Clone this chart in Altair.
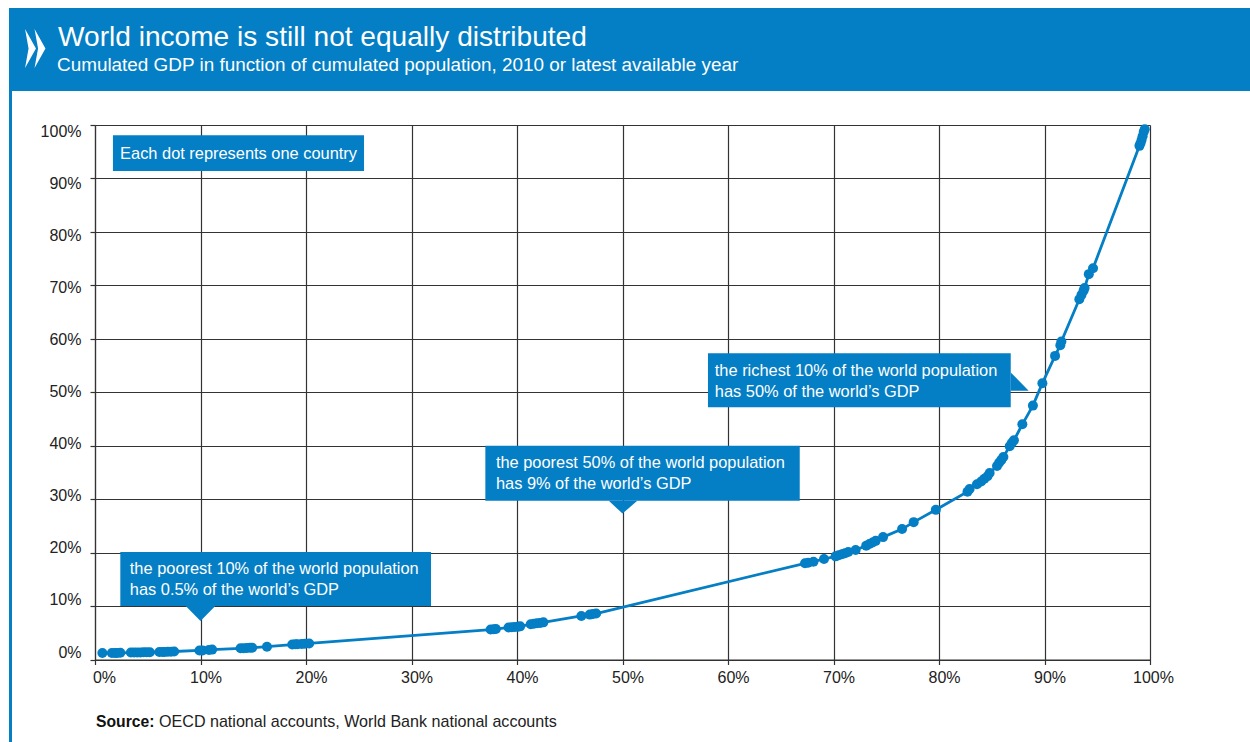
import altair as alt
import pandas as pd

BLUE = "#047ec4"
INK = "#333333"
FONT = "Liberation Sans"

# Cumulated population share (%) for each country, poorest first
population = [
    0.7, 1.6, 1.9, 2.1, 2.4, 3.4, 3.7, 4.0, 4.3, 4.6, 4.9, 5.2, 6.1, 6.4, 6.6, 6.9, 7.2, 7.5,
    9.9, 10.2, 10.8, 11.1, 13.8, 14.1, 14.4, 14.7, 14.9, 16.3, 18.7, 19.0, 19.2, 19.6, 19.9, 20.3,
    37.5, 37.8, 38.0, 39.2, 39.5, 39.8, 40.1, 40.3, 41.3, 41.6, 41.9, 42.2, 42.5, 46.1, 46.9, 47.2, 47.5,
    67.3, 67.6, 68.1, 69.1, 70.2, 70.5, 70.8, 71.1, 71.4, 72.1, 73.1, 73.4, 73.7, 74.0, 74.7, 76.5, 77.6, 79.7,
    82.7, 82.9, 83.6, 84.0, 84.3, 84.6, 84.8, 85.5, 85.7, 85.9, 86.1, 86.7, 86.9, 87.1, 87.9, 88.9, 89.8,
    91.0, 91.5, 91.6, 93.3, 93.5, 93.7, 93.8, 94.2, 94.6, 99.0, 99.1, 99.2, 99.3, 99.4, 99.5,
]
# Cumulated GDP share (%) at the same rank
gdp = [
    1.2, 1.2, 1.2, 1.2, 1.25, 1.3, 1.3, 1.3, 1.3, 1.35, 1.35, 1.35, 1.4, 1.4, 1.4, 1.45, 1.45, 1.5,
    1.7, 1.7, 1.8, 1.85, 2.1, 2.1, 2.15, 2.2, 2.2, 2.4, 2.8, 2.85, 2.85, 2.9, 2.95, 3.0,
    5.6, 5.65, 5.7, 6.0, 6.05, 6.1, 6.15, 6.2, 6.6, 6.7, 6.8, 6.85, 6.95, 8.15, 8.4, 8.5, 8.6,
    18.0, 18.1, 18.3, 18.8, 19.3, 19.5, 19.7, 19.9, 20.1, 20.5, 21.3, 21.6, 21.9, 22.2, 22.9, 24.4, 25.7, 28.0,
    31.4, 31.9, 32.8, 33.3, 33.8, 34.3, 34.9, 36.2, 36.8, 37.3, 37.9, 39.9, 40.5, 41.0, 44.0, 47.5, 51.7,
    56.8, 58.8, 59.5, 67.4, 68.2, 69.0, 69.5, 72.1, 73.2, 96.1, 96.6, 97.2, 97.9, 98.7, 99.2,
]

# Callout boxes, in axis units
box_x = [1.7, 2.4, 37.0, 58.1]
box_x2 = [25.5, 31.85, 66.8, 86.8]
box_y = [98.1, 20.1, 40.0, 57.3]
box_y2 = [91.4, 10.0, 29.7, 47.2]

# Callout pointers: each one is a small area from y to y2
ptr_group = ["a", "a", "a", "b", "b", "b", "c", "c"]
ptr_x = [8.6, 10.0, 11.4, 48.7, 50.0, 51.4, 86.8, 88.5]
ptr_y = [10.0, 10.0, 10.0, 29.7, 29.7, 29.7, 53.7, 50.3]
ptr_y2 = [10.0, 7.2, 10.0, 29.7, 27.3, 29.7, 50.3, 50.3]

note_text = [
    "Each dot represents one country",
    "the poorest 10% of the world population",
    "has 0.5% of the world’s GDP",
    "the poorest 50% of the world population",
    "has 9% of the world’s GDP",
    "the richest 10% of the world population",
    "has 50% of the world’s GDP",
]
note_x = [2.38, 3.3, 3.3, 38.0, 38.0, 58.75, 58.75]
note_y = [93.7, 16.0, 12.1, 35.8, 31.9, 53.0, 49.1]

dots = pd.DataFrame({"population": population, "gdp": gdp})
boxes = pd.DataFrame({"x": box_x, "x2": box_x2, "y": box_y, "y2": box_y2})
pointers = pd.DataFrame({"g": ptr_group, "x": ptr_x, "y": ptr_y, "y2": ptr_y2})
notes = pd.DataFrame({"x": note_x, "y": note_y, "t": note_text})

x_scale = alt.Scale(domain=[0, 100], nice=False)
y_scale = alt.Scale(domain=[0, 100], nice=False)
ticks = list(range(0, 101, 10))

x_axis = alt.Axis(
    values=ticks, title=None, labelExpr="datum.value + '%'", grid=True,
    gridColor=INK, gridWidth=1.2, domainColor=INK, domainWidth=1.2,
    tickColor=INK, tickWidth=1.2, tickSize=5,
    labelFont=FONT, labelFontSize=16, labelColor="#222222", labelPadding=5,
    labelOffset={"expr": "datum.value === 0 ? 9 : datum.value === 100 ? 3 : 5"},
    labelFlush=False, labelOverlap=False,
)
y_axis = alt.Axis(
    values=ticks, title=None, labelExpr="datum.value + '%'", grid=True,
    gridColor=INK, gridWidth=1.2, domainColor=INK, domainWidth=1.2,
    tickColor=INK, tickWidth=1.2, tickSize=5,
    labelFont=FONT, labelFontSize=16, labelColor="#222222", labelPadding=9,
    labelOffset={"expr": "-7.5 + 0.14 * datum.value"}, labelFlush=False, labelOverlap=False,
)

curve = alt.Chart(dots).mark_line(color=BLUE, strokeWidth=2.8).encode(
    x=alt.X("population:Q", scale=x_scale, axis=x_axis),
    y=alt.Y("gdp:Q", scale=y_scale, axis=y_axis),
    order="population:Q",
)
points = alt.Chart(dots).mark_circle(color=BLUE, size=100, opacity=1).encode(
    x=alt.X("population:Q", scale=x_scale),
    y=alt.Y("gdp:Q", scale=y_scale),
)

box_layer = alt.Chart(boxes).mark_rect(color=BLUE).encode(
    x=alt.X("x:Q", scale=x_scale), x2="x2:Q",
    y=alt.Y("y:Q", scale=y_scale), y2="y2:Q",
)
pointer_layer = alt.Chart(pointers).mark_area(color=BLUE, opacity=1, interpolate="linear").encode(
    x=alt.X("x:Q", scale=x_scale),
    y=alt.Y("y:Q", scale=y_scale), y2="y2:Q",
    detail="g:N",
)
note_layer = alt.Chart(notes).mark_text(
    align="left", baseline="alphabetic", font=FONT, fontSize=16.4, color="white",
).encode(
    x=alt.X("x:Q", scale=x_scale),
    y=alt.Y("y:Q", scale=y_scale),
    text="t:N",
)

# Page furniture around the plot: banner, left rule, chevrons, headings, source line
anchor = pd.DataFrame({"a": [0]})
banner = alt.Chart(anchor).mark_rect(color=BLUE).encode(
    x=alt.value(-86), x2=alt.value(1155), y=alt.value(-117), y2=alt.value(-34),
)
left_rule = alt.Chart(anchor).mark_rect(color=BLUE).encode(
    x=alt.value(-86), x2=alt.value(-83), y=alt.value(-34), y2=alt.value(618),
)
chevron_path = "M -0.28 -1 L 0.28 0 L -0.28 1 L -0.1 0 Z"
chevrons = [
    alt.Chart(anchor).mark_point(shape=chevron_path, filled=True, color="white", size=1521, opacity=1).encode(
        x=alt.value(x), y=alt.value(-76.5),
    )
    for x in (-64.5, -55)
]


def label(text, x, y, size, color="white", weight="normal"):
    return alt.Chart(pd.DataFrame({"t": [text]})).mark_text(
        align="left", baseline="alphabetic", font=FONT, fontSize=size, color=color, fontWeight=weight,
    ).encode(x=alt.value(x), y=alt.value(y), text="t:N")


title = label("World income is still not equally distributed", -37, -79.5, 28.1)
subtitle = label("Cumulated GDP in function of cumulated population, 2010 or latest available year", -38, -54.5, 18.9)
source_head = label("Source:", 1, 601.5, 15.7, color="#111111", weight="bold")
source_body = label("OECD national accounts, World Bank national accounts", 64, 601.5, 16.1, color="#222222")

chart = alt.layer(
    curve, points, box_layer, pointer_layer, note_layer,
    banner, left_rule, *chevrons, title, subtitle, source_head, source_body,
).properties(
    width=1055,
    height=534.5,
    padding={"left": 95, "right": 100, "top": 125, "bottom": 82.5},
    autosize=alt.AutoSizeParams(type="none"),
    background="white",
).configure_view(stroke=None)

chart.save("out.html", embed_options={"renderer": "svg", "actions": False})
